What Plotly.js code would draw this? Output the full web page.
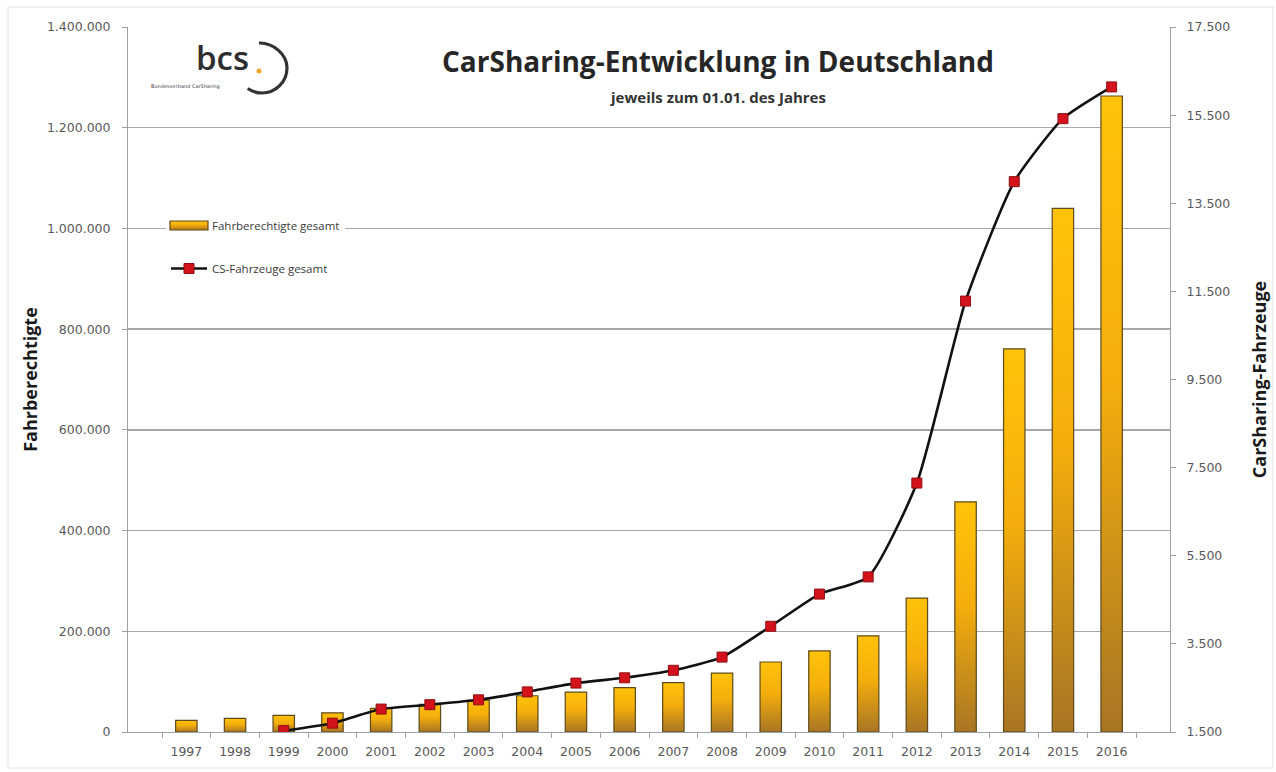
<!DOCTYPE html>
<html>
<head>
<meta charset="utf-8">
<script src="https://cdn.plot.ly/plotly-3.0.1.min.js"></script>
<style>
  html, body { margin: 0; padding: 0; background: #ffffff; }
  #chart { width: 1276px; height: 772px; }
</style>
</head>
<body>
<div id="chart"></div>
<script>
// ---- data ----
const years = ['1997','1998','1999','2000','2001','2002','2003','2004','2005','2006',
               '2007','2008','2009','2010','2011','2012','2013','2014','2015','2016'];
const fahrberechtigte = [23000, 27000, 33000, 38000, 47000, 55000, 63000, 72000, 79000, 88000,
                         98000, 117000, 139000, 161000, 191000, 266000, 457000, 761000, 1040000, 1263000];
const fahrzeuge = [null, null, 1530, 1700, 2020, 2120, 2230, 2410, 2610, 2730,
                   2900, 3200, 3900, 4630, 5020, 7150, 11280, 13990, 15420, 16140];
const seriesNames = ['Fahrberechtigte gesamt', 'CS-Fahrzeuge gesamt'];
const leftTicks = [0, 200000, 400000, 600000, 800000, 1000000, 1200000, 1400000];
const rightTicks = [1500, 3500, 5500, 7500, 9500, 11500, 13500, 15500, 17500];

// ---- layout helpers (pixel -> paper) ----
const L = 128, R = 106, T = 27, B = 40, W = 1276, H = 772;
const pw = W - L - R, ph = H - T - B;
const px = x => (x - L) / pw;
const py = y => (H - B - y) / ph;

const tickFont = { family: 'DejaVu Sans, sans-serif', size: 12.5, color: '#595959' };

const data = [
  {
    type: 'bar',
    name: seriesNames[0],
    x: years,
    y: fahrberechtigte,
    yaxis: 'y',
    legendgroup: 'a',
    marker: { color: '#F2AE10', line: { color: '#5E4A1A', width: 1.2 } },
    hoverinfo: 'skip'
  },
  {
    type: 'scatter',
    mode: 'lines+markers',
    name: seriesNames[1],
    x: years,
    y: fahrzeuge,
    yaxis: 'y2',
    legendgroup: 'b',
    connectgaps: false,
    line: { color: '#111111', width: 2.6, shape: 'spline', smoothing: 0.55 },
    marker: { symbol: 'square', size: 10, color: '#D3121C', line: { color: '#8E0E12', width: 1 } },
    hoverinfo: 'skip'
  }
];

const layout = {
  width: W, height: H,
  margin: { l: L, r: R, t: T, b: B, pad: 0 },
  paper_bgcolor: '#ffffff',
  plot_bgcolor: '#ffffff',
  separators: ',.',
  bargap: 0.56,
  showlegend: true,
  title: {
    text: 'CarSharing-Entwicklung in Deutschland',
    font: { family: 'Open Sans, sans-serif', size: 28, color: '#262626', weight: 'bold' },
    xref: 'container', yref: 'container',
    x: 718 / W, y: 1 - 62 / H, xanchor: 'center', yanchor: 'middle'
  },
  legend: {
    x: px(166), y: py(211), xanchor: 'left', yanchor: 'top',
    bgcolor: '#ffffff',
    font: { family: 'Open Sans, sans-serif', size: 11.5, color: '#3a3a3a' },
    traceorder: 'grouped',
    tracegroupgap: 24,
    itemwidth: 36
  },
  xaxis: {
    type: 'category',
    showgrid: false,
    showline: true, linecolor: '#9AA3B2', linewidth: 1,
    ticks: 'outside', ticklen: 5, tickcolor: '#9AA3B2',
    tickson: 'boundaries',
    ticklabelstandoff: 8,
    tickfont: tickFont,
    fixedrange: true
  },
  yaxis: {
    range: [0, 1400000],
    tickvals: leftTicks,
    tickformat: ',d',
    showgrid: true, gridcolor: '#A8A8A8', gridwidth: 1.5,
    zeroline: false,
    showline: true, linecolor: '#A0A0A0', linewidth: 1,
    ticks: 'outside', ticklen: 5, tickcolor: '#A0A0A0',
    ticklabelstandoff: 9,
    tickfont: tickFont,
    title: { text: 'Fahrberechtigte', standoff: 4,
             font: { family: 'Open Sans, sans-serif', size: 18, color: '#1a1a1a', weight: 'bold' } },
    automargin: false,
    fixedrange: true
  },
  yaxis2: {
    overlaying: 'y', side: 'right',
    range: [1500, 17500],
    tickvals: rightTicks,
    tickformat: ',d',
    showgrid: false, zeroline: false,
    showline: true, linecolor: '#9AA3B2', linewidth: 1,
    ticks: 'outside', ticklen: 5, tickcolor: '#A0A0A0',
    ticklabelstandoff: 8,
    tickfont: tickFont,
    title: { text: 'CarSharing-Fahrzeuge', standoff: 24,
             font: { family: 'Open Sans, sans-serif', size: 18, color: '#1a1a1a', weight: 'bold' } },
    automargin: false,
    fixedrange: true
  },
  annotations: [
    { text: 'jeweils zum 01.01. des Jahres', xref: 'paper', yref: 'paper',
      x: px(718), y: py(97), xanchor: 'center', yanchor: 'middle', showarrow: false,
      font: { family: 'Open Sans, sans-serif', size: 15, color: '#333333', weight: 'bold' } },
    { text: 'bcs', xref: 'paper', yref: 'paper',
      x: px(222), y: py(58), xanchor: 'center', yanchor: 'middle', showarrow: false,
      font: { family: 'Open Sans, sans-serif', size: 33, color: '#2e2e2e', weight: 600 } },
    { text: 'Bundesverband CarSharing', xref: 'paper', yref: 'paper',
      x: px(185), y: py(86), xanchor: 'center', yanchor: 'middle', showarrow: false,
      font: { family: 'DejaVu Sans, sans-serif', size: 5, color: '#444444' } }
  ],
  shapes: [
    // faint chart border
    { type: 'rect', xref: 'paper', yref: 'paper',
      x0: px(8), x1: px(1273), y0: py(768), y1: py(7),
      line: { color: '#E4E4E4', width: 1 }, fillcolor: 'rgba(0,0,0,0)', layer: 'below' },
    // logo arc
    { type: 'path', xref: 'paper', yref: 'paper', xsizemode: 'pixel', ysizemode: 'pixel',
      xanchor: px(262), yanchor: py(68),
      path: 'M-3,25 C11,25.5 25,13.8 25,0 C25,-13.8 13.8,-25 0,-25 C-5.1,-25 -10.1,-23.4 -14.3,-20.5',
      line: { color: '#333333', width: 3.2 } },
    // logo dot
    { type: 'circle', xref: 'paper', yref: 'paper', xsizemode: 'pixel', ysizemode: 'pixel',
      xanchor: px(259), yanchor: py(71), x0: -2.5, x1: 2.5, y0: -2.5, y1: 2.5,
      fillcolor: '#F0A830', line: { width: 0 } }
  ]
};

Plotly.newPlot('chart', data, layout, { staticPlot: true, displayModeBar: false }).then(gd => {
  const ns = 'http://www.w3.org/2000/svg';
  const svg = gd.querySelector('svg.main-svg');
  let defs = svg.querySelector('defs');
  if (!defs) { defs = document.createElementNS(ns, 'defs'); svg.insertBefore(defs, svg.firstChild); }
  const lg = document.createElementNS(ns, 'linearGradient');
  lg.setAttribute('id', 'barGrad');
  lg.setAttribute('x1', '0'); lg.setAttribute('y1', '0');
  lg.setAttribute('x2', '0'); lg.setAttribute('y2', '1');
  [['0%', '#FFC30A'], ['45%', '#F4AE0C'], ['100%', '#A87524']].forEach(([o, c]) => {
    const s = document.createElementNS(ns, 'stop');
    s.setAttribute('offset', o); s.setAttribute('stop-color', c);
    lg.appendChild(s);
  });
  defs.appendChild(lg);
  gd.querySelectorAll('.barlayer .point path').forEach(p => {
    p.style.fill = 'url(#barGrad)';
  });
  // legend swatch for the bars: wide flat rectangle as in the original
  const traces = gd.querySelectorAll('.legend .traces');
  if (traces.length) {
    traces[0].querySelectorAll('.legendpoints path').forEach(p => {
      p.setAttribute('d', 'M-19,-4.5h38v9h-38z');
      p.style.fill = 'url(#barGrad)';
    });
  }
});
</script>
</body>
</html>
